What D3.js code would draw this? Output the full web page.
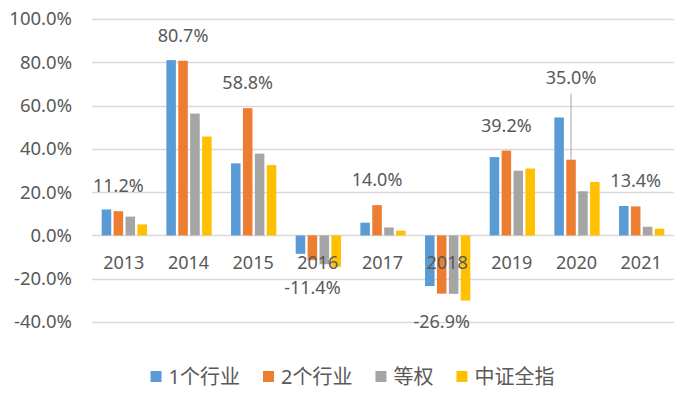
<!DOCTYPE html>
<meta charset="utf-8">
<style>
body { margin: 0; background: #fff; }
text { font-family: "Noto Sans", "Noto Sans CJK SC", sans-serif; fill: #595959; }
.grid line { stroke: #d9d9d9; stroke-width: 1.3px; }
</style>
<svg width="684" height="396"></svg>
<script src="https://d3js.org/d3.v7.min.js"></script>
<script>

// data (percent)
var years = ["2013", "2014", "2015", "2016", "2017", "2018", "2019", "2020", "2021"];
var seriesNames = ["1个行业", "2个行业", "等权", "中证全指"];
var oneIndustry = [12.0, 81.0, 33.3, -8.5, 5.9, -23.4, 36.2, 54.5, 13.6];
var twoIndustry = [11.2, 80.7, 58.8, -11.4, 14.0, -26.9, 39.2, 35.0, 13.4];
var equalWeight = [8.7, 56.3, 37.8, -13.3, 3.7, -27.0, 29.9, 20.4, 4.0];
var csiAll = [5.1, 45.7, 32.5, -14.5, 2.2, -30.1, 30.9, 24.7, 3.1];
var yTicks = [-40, -20, 0, 20, 40, 60, 80, 100];

var colors = ["#5b9bd5", "#ed7d31", "#a5a5a5", "#ffc000"];
var allSeries = [oneIndustry, twoIndustry, equalWeight, csiAll];

var svg = d3.select("svg"),
    plotLeft = 92, plotRight = 674, plotTop = 19, plotBottom = 322;

var y = d3.scaleLinear().domain([-40, 100]).range([plotBottom, plotTop]);
var x0 = d3.scaleBand().domain(years).range([plotLeft, plotRight]).paddingInner(0.3).paddingOuter(0.15);
var x1 = d3.scaleBand().domain(d3.range(4)).range([0, x0.bandwidth()]).paddingInner(0.2);

// gridlines
svg.append("g").attr("class", "grid")
  .selectAll("line").data(yTicks).enter().append("line")
    .attr("x1", plotLeft).attr("x2", plotRight)
    .attr("y1", function(d) { return Math.round(y(d)) + 0.5; })
    .attr("y2", function(d) { return Math.round(y(d)) + 0.5; });

// y axis labels
svg.append("g").selectAll("text").data(yTicks).enter().append("text")
  .attr("x", 72).attr("y", function(d) { return y(d); })
  .attr("dy", "0.35em").attr("text-anchor", "end")
  .style("font-size", "18.5px")
  .text(function(d) { return d.toFixed(1) + "%"; });

// bars
var groups = svg.append("g").selectAll("g").data(years).enter().append("g")
  .attr("transform", function(d) { return "translate(" + x0(d) + ",0)"; });

groups.selectAll("rect")
  .data(function(d, i) { return allSeries.map(function(s, k) { return {k: k, v: s[i]}; }); })
  .enter().append("rect")
    .attr("x", function(d) { return x1(d.k); })
    .attr("width", x1.bandwidth())
    .attr("y", function(d) { return y(Math.max(0, d.v)); })
    .attr("height", function(d) { return Math.abs(y(d.v) - y(0)); })
    .attr("fill", function(d) { return colors[d.k]; });

// category labels sit just under the zero line
svg.append("g").selectAll("text").data(years).enter().append("text")
  .attr("x", function(d) { return x0(d) + x0.bandwidth() / 2 - 0.5; })
  .attr("y", y(0) + 34)
  .attr("text-anchor", "middle")
  .style("font-size", "18px")
  .text(function(d) { return d; });

// data labels for the 2个行业 series
var liftedYear = "2020", liftBy = 57;
svg.append("g").selectAll("g").data(years).enter().append("g")
  .each(function(d, i) {
    var v = twoIndustry[i];
    var cx = x0(d) + x1(1) + x1.bandwidth() / 2;
    var ly = v >= 0 ? y(v) - 19 : y(v) + 34;
    if (d === liftedYear) {
      ly -= liftBy;
      d3.select(this).append("line")
        .attr("x1", cx).attr("x2", cx)
        .attr("y1", ly + 10).attr("y2", y(v))
        .attr("stroke", "#a6a6a6").attr("stroke-width", 1);
    }
    d3.select(this).append("text")
      .attr("x", cx).attr("y", ly)
      .attr("text-anchor", "middle")
      .style("font-size", "18px")
      .text(v.toFixed(1) + "%");
  });

// legend
var legend = svg.append("g");
var lx = 0;
seriesNames.forEach(function(name, k) {
  var item = legend.append("g").attr("transform", "translate(" + lx + ",0)");
  item.append("rect").attr("x", 0).attr("y", -6).attr("width", 11).attr("height", 11)
    .attr("fill", colors[k]);
  var t = item.append("text").attr("x", 18).attr("y", 0).attr("dy", "0.35em")
    .style("font-size", "20px").text(name);
  lx += 18 + t.node().getComputedTextLength() + 23;
});
lx -= 23;
legend.attr("transform", "translate(" + (352.5 - lx / 2) + ",377)");

</script>
